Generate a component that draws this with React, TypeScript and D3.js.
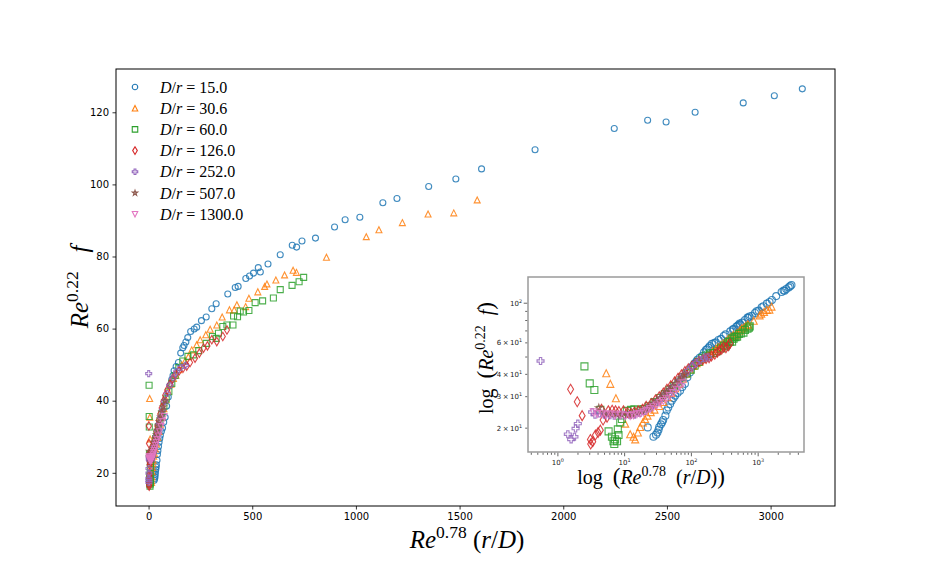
import React, { useEffect, useRef } from 'react';
import * as d3 from 'd3';

type Pt = [number, number];

// values: [Re^0.78 (r/D), Re^0.22 f]
const dr15: Pt[] = [
  [22.2, 20.2], [27, 17.9], [29.5, 18.4], [31, 18.9], [32.2, 19.6], [33, 20.3], [35, 21], [36.5, 21.6],
  [37.8, 22.2], [40.8, 23.5], [42.7, 25.1], [45, 26.1], [48, 27.3], [50.7, 28.5], [54, 29.5], [57, 30.4],
  [62, 31.5], [67.5, 32.4], [73, 34], [80, 35.4], [87, 38.5], [95, 41], [103, 44.2], [112, 45.9],
  [118, 47], [123, 48.3], [133, 49.5], [144, 50.6], [155, 53.2], [165, 54.7], [171, 55.3], [180, 56.3],
  [189, 57.5], [203, 59.2], [220, 59.9], [232, 60.4], [255, 62.2], [278, 63.2], [305, 65.5], [326, 66.9],
  [382, 69.6], [418, 71.4], [432, 71.7], [469, 73.9], [487, 74.6], [506, 75.4], [529, 76.9], [539, 75.7],
  [576, 77.9], [635, 80.5], [693, 83.1], [714, 82.6], [740, 84.3], [805, 85.1], [897, 88.2], [948, 90.2],
  [1019, 90.9], [1130, 94.9], [1198, 96.1], [1351, 99.4], [1482, 101.5], [1606, 104.3], [1864, 109.6],
  [2246, 115.5], [2407, 117.8], [2496, 117.3], [2636, 120], [2868, 122.6], [3018, 124.6], [3153, 126.5],
];
const dr30: Pt[] = [
  [5.3, 40.6], [6.1, 35.4], [7.4, 29.4], [10.2, 21.2], [12.1, 18.5], [13.6, 17.9], [14.4, 17.3], [15.8, 18.9],
  [17.1, 20.3], [18.7, 21.5], [20.2, 22.5], [22, 23.5], [24.6, 24.6], [28, 25.4], [33, 26.6], [38, 28],
  [44, 29.8], [50, 31.5], [57, 33.5], [65, 35.5], [74, 37.8], [84, 40.3], [95, 42.6], [108, 44.6],
  [120, 46.2], [132, 47.1], [146, 48.6], [160, 49.9], [176, 51], [192, 52.2], [208, 54.1], [232, 55.5],
  [249, 56.9], [276, 58.3], [297, 59.8], [329, 61], [355, 63.2], [390, 65.2], [413, 65.2], [426, 66.6],
  [468, 66.1], [484, 68.4], [527, 70.2], [560, 71.7], [571, 72.4], [614, 73.5], [656, 74.9], [697, 76.2],
  [713, 75.6], [858, 79.8], [1050, 85.5], [1111, 87.4], [1224, 89.4], [1348, 91.8], [1472, 92.1], [1585, 95.7],
];
const dr60: Pt[] = [
  [2.5, 44.3], [3.0, 35.6], [3.52, 32.7], [4.33, 25.3], [5.75, 19.2], [6.45, 17.9], [6.8, 16.9], [7.0, 16.3],
  [7.2, 17.3], [7.7, 16.9], [7.9, 19.7], [8.1, 18.3], [8.6, 21.5], [9.1, 22.5], [10.8, 25], [12.5, 25.3],
  [14, 25.5], [16, 25.2], [19, 25.6], [23, 26.5], [28, 28], [34, 29.5], [40, 31], [47, 32.8], [55, 34.5],
  [64, 36.5], [74, 38.5], [85, 40.5], [98, 42.5], [112, 44.8], [128, 47], [146, 49.2], [165, 51],
  [190, 52.3], [216, 52.7], [242, 53.9], [278, 55.9], [308, 57.8], [326, 57.3], [337, 58.7], [358, 60.6],
  [378, 61], [407, 61], [410, 63.5], [429, 63.3], [442, 64.9], [458, 64.6], [484, 65], [514, 67.2],
  [550, 67.7], [602, 68.5], [635, 70.8], [692, 72], [726, 73], [748, 74.2],
];
const dr126: Pt[] = [
  [1.55, 33], [1.95, 28.1], [2.31, 23.5], [3.07, 17.3], [3.1, 16.3], [3.33, 16.8], [3.65, 18.3], [4.0, 18.9],
  [4.33, 19.5], [4.5, 25.5], [4.75, 22.2], [5.45, 23], [5.7, 25], [6.5, 25.2], [7.3, 25], [8.2, 24.8],
  [9.6, 25], [11, 24.5], [12.5, 24.2], [14, 24.6], [16, 25], [18.5, 25.5], [21, 26.5], [25, 27.5],
  [29, 28.8], [33, 30], [38, 31.5], [43, 33], [49, 34.5], [56, 36.3], [63, 38], [71, 39.8], [80, 41.5],
  [90, 43], [102, 44.5], [115, 46], [130, 47.3], [148, 48.3], [166, 49], [184, 49.6], [200, 50.6],
  [224, 51.8], [245, 53.2], [265, 54.6], [284, 55.2], [305, 56.9], [329, 56.4], [358, 57.8], [378, 59.6],
];
const dr252: Pt[] = [
  [0.55, 47.5], [1.41, 18.5], [1.58, 17.3], [1.77, 17.9], [1.84, 19.9], [1.99, 21.2], [3.26, 24.6], [3.6, 23.8],
  [4.2, 24.2], [5, 23.8], [6, 23.6], [7, 23.5], [8.5, 23.6], [10, 23.6], [12, 23.7], [14, 23.8], [17, 24.3],
  [20, 25], [24, 26], [28, 27.2], [33, 28.6], [38, 30.2], [44, 31.8], [51, 33.5], [59, 35.5], [68, 37.5],
  [78, 39.8], [90, 42], [103, 44.3], [118, 46.3], [135, 48], [155, 49.2], [177, 49.8],
];
const dr507: Pt[] = [
  [4.1, 26], [5, 24.5], [6, 24.2], [7.5, 24], [9, 23.8], [11, 23.8], [13, 24], [15.5, 24.5], [18, 25],
  [21, 25.8], [24, 26.7], [27, 27.6], [30, 28.5], [34, 29.5], [38, 30.6], [42, 31.8], [47, 33], [52, 34.2],
  [58, 35.5], [64, 36.8], [71, 38.3], [79, 40],
];
const dr1300: Pt[] = [
  [3.44, 24.5], [3.9, 24], [4.58, 24.1], [5.3, 23.6], [6.1, 23.9], [7.2, 23.5], [8.6, 23.8], [10.2, 23.3],
  [12.1, 23.4], [13.6, 23.6], [15.3, 23.9], [17, 24.1], [19.1, 24.5], [21.5, 25], [24, 25.6], [27, 26.2],
  [30.3, 26.8], [34, 27.6], [38.1, 28.4], [42.5, 29.2], [47.6, 30.2], [53.5, 31.4], [60, 32.8], [67, 34.2],
  [75, 35.6],
];

const seriesNames = ['15.0', '30.6', '60.0', '126.0', '252.0', '507.0', '1300.0'];
const seriesPoints = [dr15, dr30, dr60, dr126, dr252, dr507, dr1300];
const seriesColors = ['#1f77b4', '#ff7f0e', '#2ca02c', '#d62728', '#9467bd', '#8c564b', '#e377c2'];
const seriesMarkers = ['o', '^', 's', 'd', 'P', '*', 'v'];

const xTicks = [0, 500, 1000, 1500, 2000, 2500, 3000];
const yTicks = [20, 40, 60, 80, 100, 120];
const insetXTicks = [1, 10, 100, 1000];
const insetYTicks = [20, 30, 40, 60, 100];

const width = 926;
const height = 579;
const main = { left: 116, right: 835, top: 69, bottom: 506 };
const inset = { left: 528, right: 804, top: 277, bottom: 452 };
const serif = "'Liberation Serif', 'DejaVu Serif', serif";
const sans = "'DejaVu Sans', sans-serif";

const markerPath = (m: string, s: number) => {
  const h = s / 2;
  switch (m) {
    case '^':
      return `M0,${-h}L${h},${h}L${-h},${h}Z`;
    case 'v':
      return `M0,${h}L${h},${-h}L${-h},${-h}Z`;
    case 's':
      return `M${-h},${-h}H${h}V${h}H${-h}Z`;
    case 'd': {
      const a = s * 0.7071;
      const w = a * 0.6;
      return `M0,${-a}L${w},0L0,${a}L${-w},0Z`;
    }
    case 'P': {
      const u = s / 6;
      const p = [[-1, -3], [1, -3], [1, -1], [3, -1], [3, 1], [1, 1], [1, 3], [-1, 3], [-1, 1], [-3, 1], [-3, -1], [-1, -1]];
      return 'M' + p.map((q) => `${q[0] * u},${q[1] * u}`).join('L') + 'Z';
    }
    case '*': {
      const pts: string[] = [];
      for (let i = 0; i < 10; i++) {
        const r = i % 2 === 0 ? h : h * 0.381966;
        const a = (Math.PI / 5) * i - Math.PI / 2;
        pts.push(`${r * Math.cos(a)},${r * Math.sin(a)}`);
      }
      return 'M' + pts.join('L') + 'Z';
    }
    default:
      return `M${h},0A${h},${h} 0 1,1 ${-h},0A${h},${h} 0 1,1 ${h},0Z`;
  }
};

interface Part {
  t: string;
  it?: boolean;
  sup?: boolean;
  big?: boolean;
}

// mathtext-like label built from tspans
const rich = (sel: d3.Selection<SVGTextElement, unknown, null, undefined>, parts: Part[], size: number) => {
  let up = false;
  parts.forEach((p) => {
    const ts = sel.append('tspan').text(p.t);
    if (p.it) ts.attr('font-style', 'italic');
    if (p.big) ts.attr('font-size', size * 1.15);
    if (p.sup) {
      ts.attr('font-size', size * 0.7);
      if (!up) ts.attr('dy', -size * 0.42);
      up = true;
    } else if (up) {
      ts.attr('dy', size * 0.42);
      up = false;
    }
  });
};

export default function App() {
  const svgRef = useRef<SVGSVGElement>(null);

  useEffect(() => {
    const svg = d3.select(svgRef.current);
    svg.selectAll('*').remove();

    const all = seriesPoints.flat();
    const [x0, x1] = d3.extent(all, (d) => d[0]) as [number, number];
    const [y0, y1] = d3.extent(all, (d) => d[1]) as [number, number];
    const dx = x1 - x0;
    const dy = y1 - y0;

    const x = d3.scaleLinear().domain([x0 - 0.05 * dx, x1 + 0.05 * dx]).range([main.left, main.right]);
    const y = d3.scaleLinear().domain([y0 - 0.05 * dy, y1 + 0.05 * dy]).range([main.bottom, main.top]);

    const lx0 = Math.log10(x0);
    const lx1 = Math.log10(x1);
    const ly0 = Math.log10(y0);
    const ly1 = Math.log10(y1);
    const lx = d3
      .scaleLog()
      .domain([10 ** (lx0 - 0.05 * (lx1 - lx0)), 10 ** (lx1 + 0.05 * (lx1 - lx0))])
      .range([inset.left, inset.right]);
    const ly = d3
      .scaleLog()
      .domain([10 ** (ly0 - 0.05 * (ly1 - ly0)), 10 ** (ly1 + 0.05 * (ly1 - ly0))])
      .range([inset.bottom, inset.top]);

    svg.append('rect').attr('width', width).attr('height', height).attr('fill', 'white');

    // main axes
    const xAxis = svg
      .append('g')
      .attr('transform', `translate(0,${main.bottom})`)
      .call(d3.axisBottom(x).tickValues(xTicks).tickSize(3.5).tickPadding(3.5).tickFormat(d3.format('d')));
    const yAxis = svg
      .append('g')
      .attr('transform', `translate(${main.left},0)`)
      .call(d3.axisLeft(y).tickValues(yTicks).tickSize(3.5).tickPadding(3.5).tickFormat(d3.format('d')));
    [xAxis, yAxis].forEach((a) => {
      a.select('.domain').remove();
      a.attr('font-family', sans).attr('font-size', 10);
      a.selectAll('line').attr('stroke', '#000').attr('stroke-width', 0.8);
      a.selectAll('text').attr('fill', '#000');
    });

    const drawSeries = (
      g: d3.Selection<SVGGElement, unknown, null, undefined>,
      sx: (v: number) => number,
      sy: (v: number) => number,
      size: number
    ) => {
      seriesPoints.forEach((pts, i) => {
        g.append('g')
          .attr('fill', 'none')
          .attr('stroke', seriesColors[i])
          .attr('stroke-width', 1.1)
          .attr('stroke-opacity', 0.85)
          .selectAll('path')
          .data(pts)
          .join('path')
          .attr('d', markerPath(seriesMarkers[i], size))
          .attr('transform', (d) => `translate(${sx(d[0])},${sy(d[1])})`);
      });
    };

    drawSeries(svg.append('g'), x, y, 6);

    svg
      .append('rect')
      .attr('x', main.left)
      .attr('y', main.top)
      .attr('width', main.right - main.left)
      .attr('height', main.bottom - main.top)
      .attr('fill', 'none')
      .attr('stroke', '#000')
      .attr('stroke-width', 1);

    // legend
    const legend = svg.append('g');
    seriesNames.forEach((name, i) => {
      const cy = 87 + i * 21.2;
      legend
        .append('path')
        .attr('d', markerPath(seriesMarkers[i], 5.5))
        .attr('transform', `translate(135,${cy})`)
        .attr('fill', 'none')
        .attr('stroke', seriesColors[i])
        .attr('stroke-width', 1.1);
      const t = legend
        .append('text')
        .attr('x', 160)
        .attr('y', cy + 5.5)
        .attr('font-family', serif)
        .attr('font-size', 16)
        .style('white-space', 'pre');
      rich(t, [{ t: 'D', it: true }, { t: '/' }, { t: 'r', it: true }, { t: ' = ' + name }], 16);
    });

    // main axis labels
    const xl = svg
      .append('text')
      .attr('x', 467)
      .attr('y', 548)
      .attr('text-anchor', 'middle')
      .attr('font-family', serif)
      .attr('font-size', 25)
      .style('white-space', 'pre');
    rich(xl, [{ t: 'Re', it: true }, { t: '0.78', sup: true }, { t: ' (' }, { t: 'r', it: true }, { t: '/' }, { t: 'D', it: true }, { t: ')' }], 25);

    const yl = svg
      .append('text')
      .attr('transform', `translate(88,287) rotate(-90)`)
      .attr('text-anchor', 'middle')
      .attr('font-family', serif)
      .attr('font-size', 25)
      .style('white-space', 'pre');
    rich(yl, [{ t: 'Re', it: true }, { t: '0.22', sup: true }, { t: '   ' }, { t: 'f', it: true }], 25);

    // inset
    const ig = svg.append('g');
    ig.append('rect')
      .attr('x', inset.left)
      .attr('y', inset.top)
      .attr('width', inset.right - inset.left)
      .attr('height', inset.bottom - inset.top)
      .attr('fill', 'white');

    drawSeries(ig.append('g'), lx, ly, 7);

    ig.append('rect')
      .attr('x', inset.left)
      .attr('y', inset.top)
      .attr('width', inset.right - inset.left)
      .attr('height', inset.bottom - inset.top)
      .attr('fill', 'none')
      .attr('stroke', '#9a9a9a')
      .attr('stroke-width', 1.5);

    const isPow = (v: number) => Math.abs(Math.log10(v) - Math.round(Math.log10(v))) < 1e-9;
    const tickG = ig.append('g').attr('stroke', '#222').attr('stroke-width', 0.7);

    lx.ticks().forEach((v) => {
      const len = isPow(v) ? 3.5 : 2;
      tickG.append('line').attr('x1', lx(v)).attr('x2', lx(v)).attr('y1', inset.bottom + 0.8).attr('y2', inset.bottom + 0.8 + len);
    });
    ly.ticks().forEach((v) => {
      const len = isPow(v) ? 3.5 : 2;
      tickG.append('line').attr('y1', ly(v)).attr('y2', ly(v)).attr('x1', inset.left - 0.8).attr('x2', inset.left - 0.8 - len);
    });

    insetXTicks.forEach((v) => {
      const t = ig
        .append('text')
        .attr('x', lx(v))
        .attr('y', inset.bottom + 13)
        .attr('text-anchor', 'middle')
        .attr('font-family', sans)
        .attr('font-size', 7)
        .attr('fill', '#222');
      rich(t, [{ t: '10' }, { t: String(Math.round(Math.log10(v))), sup: true }], 7);
    });
    insetYTicks.forEach((v) => {
      const e = Math.floor(Math.log10(v) + 1e-9);
      const m = Math.round(v / 10 ** e);
      const t = ig
        .append('text')
        .attr('x', inset.left - 6)
        .attr('y', ly(v) + 2.5)
        .attr('text-anchor', 'end')
        .attr('font-family', sans)
        .attr('font-size', 7)
        .attr('fill', '#222');
      rich(t, [{ t: (m === 1 ? '' : `${m}\u2009×\u2009`) + '10' }, { t: String(e), sup: true }], 7);
    });

    const ixl = ig
      .append('text')
      .attr('x', 651)
      .attr('y', 484)
      .attr('text-anchor', 'middle')
      .attr('font-family', serif)
      .attr('font-size', 20)
      .style('white-space', 'pre');
    rich(
      ixl,
      [{ t: 'log  ' }, { t: '(', big: true }, { t: 'Re', it: true }, { t: '0.78', sup: true }, { t: '  (' }, { t: 'r', it: true }, { t: '/' }, { t: 'D', it: true }, { t: ')' }, { t: ')', big: true }],
      20
    );
    const iyl = ig
      .append('text')
      .attr('transform', `translate(493,358) rotate(-90)`)
      .attr('text-anchor', 'middle')
      .attr('font-family', serif)
      .attr('font-size', 20)
      .style('white-space', 'pre');
    rich(iyl, [{ t: 'log  ' }, { t: '(', big: true }, { t: 'Re', it: true }, { t: '0.22', sup: true }, { t: '  ' }, { t: 'f', it: true }, { t: ')', big: true }], 20);
  }, []);

  return (
    <svg
      ref={svgRef}
      width={width}
      height={height}
      viewBox={`0 0 ${width} ${height}`}
      style={{ position: 'absolute', left: 0, top: 0 }}
    />
  );
}
